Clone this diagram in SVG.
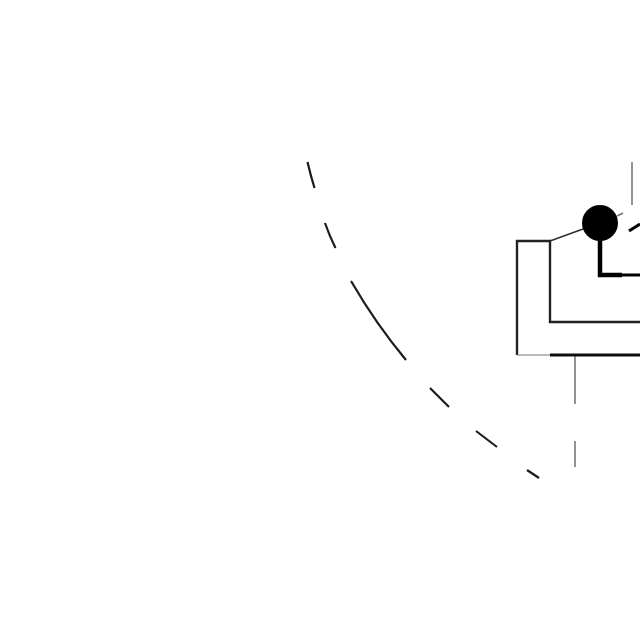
<svg xmlns="http://www.w3.org/2000/svg" width="640" height="640" viewBox="0 0 640 640">
<defs><filter id="soft" x="0" y="0" width="640" height="640" filterUnits="userSpaceOnUse"><feGaussianBlur stdDeviation="0.45"/></filter></defs>
<style>
.a{fill:none;stroke:#1a1a1a;stroke-width:2.200}
.b{fill:none;stroke:#222;stroke-width:2.400;stroke-linejoin:miter}
.c{fill:none;stroke:#888;stroke-width:1.800}
.d{fill:none;stroke:#000;stroke-width:4.500}
</style>
<rect width="640" height="640" fill="#fff"/>
<g filter="url(#soft)">
<g id="connectors">
<path class="a" d="M307.500 162Q310.500 175 314.500 188"/>
<path class="a" d="M325 223Q329.500 236 335.500 248"/>
<path class="a" d="M351 281Q376 324 406 360"/>
<path class="a" d="M430 388L449 407"/>
<path class="a" d="M476 431L497 447"/>
<path class="a" d="M527 470L539 478"/>
<path class="c" d="M632 162V205"/>
<path class="c" d="M575 355V404M575 441V467"/>
<path fill="none" stroke="#333" stroke-width="1.800" d="M550 241L583 229"/>
<path fill="none" stroke="#777" stroke-width="1.800" d="M617 216L623 213"/>
<path fill="none" stroke="#000" stroke-width="3.200" d="M629 231L640 224"/>
<path class="d" d="M600 238V275H622"/>
<path fill="none" stroke="#000" stroke-width="3" d="M622 275H640"/>
</g>
<g id="frame">
<path class="b" d="M640 322H550V241H517V355"/>
<path fill="none" stroke="#777" stroke-width="1.200" d="M517 355H550"/>
<path fill="none" stroke="#111" stroke-width="2.800" d="M550 355H640"/>
</g>
<g id="node">
<circle cx="600" cy="223" r="18" fill="#000"/>
</g>
</g>
</svg>
